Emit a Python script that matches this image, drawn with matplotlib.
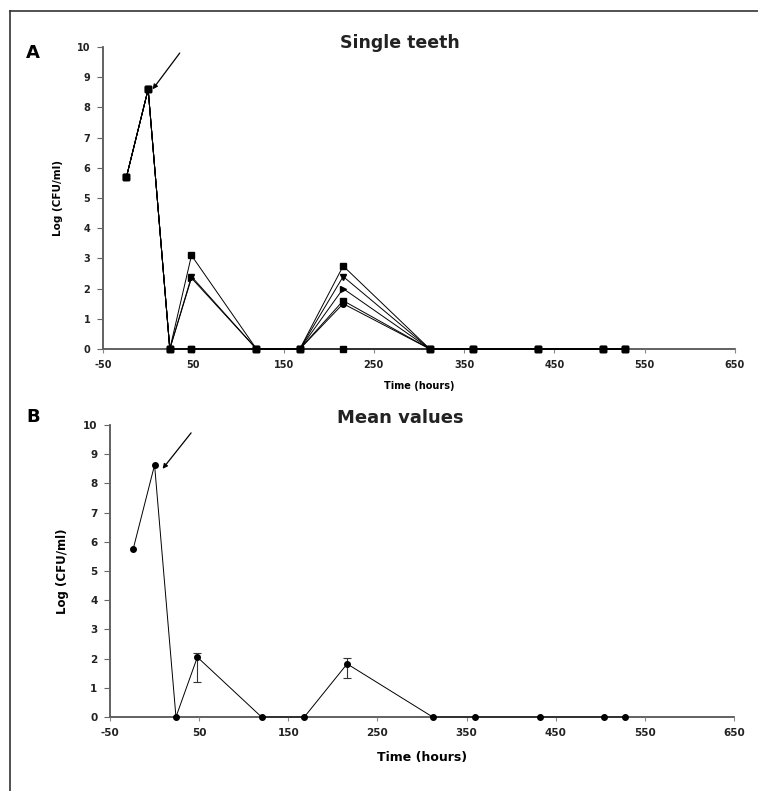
import matplotlib
matplotlib.use("Agg")
import matplotlib.pyplot as plt
import numpy as np
from matplotlib.lines import Line2D

plt.rcParams['font.family'] = ['DejaVu Sans']

# ---- data ----
times = [-24, 0, 24, 48, 120, 168, 216, 312, 360, 432, 504, 528]
tooth1 = [5.7, 8.6, 0, 3.1, 0, 0, 2.75, 0, 0, 0, 0, 0]
tooth2 = [5.7, 8.6, 0, 2.4, 0, 0, 2.4, 0, 0, 0, 0, 0]
tooth3 = [5.7, 8.6, 0, 2.35, 0, 0, 2.0, 0, 0, 0, 0, 0]
tooth4 = [5.7, 8.6, 0, 0, 0, 0, 1.6, 0, 0, 0, 0, 0]
tooth5 = [5.7, 8.6, 0, 0, 0, 0, 1.5, 0, 0, 0, 0, 0]
tooth6 = [5.7, 8.6, 0, 0, 0, 0, 0, 0, 0, 0, 0, 0]
teeth = [tooth1, tooth2, tooth3, tooth4, tooth5, tooth6]
tooth_markers = ['s', 'v', '>', 's', 'o', 's']

mean_vals = [5.75, 8.63, 0, 2.05, 0, 0, 1.82, 0, 0, 0, 0, 0]
err_low = [0, 0, 0, 0.85, 0, 0, 0.5, 0, 0, 0, 0, 0]
err_high = [0, 0, 0, 0.15, 0, 0, 0.2, 0, 0, 0, 0, 0]

xticks = [-50, 50, 150, 250, 350, 450, 550, 650]
yticks = list(range(0, 11))

W, H = 758, 791
fig = plt.figure(figsize=(W / 100, H / 100), dpi=100)

def px_axes(x0, x1, ytop, ybot):
    return fig.add_axes([x0 / W, 1 - ybot / H, (x1 - x0) / W, (ybot - ytop) / H])

axA = px_axes(103, 735, 47, 349)
axB = px_axes(110, 734, 425, 717)

spine_col = '#555555'
for ax, tfs in ((axA, 7), (axB, 7.5)):
    ax.set_xlim(-50, 650)
    ax.set_ylim(0, 10)
    ax.set_xticks(xticks)
    ax.set_yticks(yticks)
    ax.set_xticklabels([str(v) for v in xticks], fontsize=tfs, fontweight='bold', color='#222222')
    ax.set_yticklabels([str(v) for v in yticks], fontsize=tfs, fontweight='bold', color='#222222')
    for s in ('top', 'right'):
        ax.spines[s].set_visible(False)
    for s in ('left', 'bottom'):
        ax.spines[s].set_color(spine_col)
        ax.spines[s].set_linewidth(1.3)
        ax.spines[s].set_zorder(1)
    ax.tick_params(axis='x', direction='out', length=3, width=0.8, color='#888888', pad=5)
    ax.tick_params(axis='y', direction='out', length=4, width=0.8, color='#666666', pad=5)

# Panel A: single teeth
for vals, m in zip(teeth, tooth_markers):
    axA.plot(times, vals, color='black', lw=0.7, marker=m, ms=4,
             markerfacecolor='black', markeredgecolor='black', clip_on=False, zorder=3)
axA.annotate('', xy=(5, 8.6), xytext=(35, 9.8),
             arrowprops=dict(arrowstyle='-|>', lw=0.9, color='black', mutation_scale=7,
                             shrinkA=0, shrinkB=0))
axA.set_ylabel('Log (CFU/ml)', fontsize=7.5, fontweight='bold', labelpad=10)
axA.set_xlabel('Time (hours)', fontsize=7, fontweight='bold', labelpad=8)

# Panel B: mean values
t_arr = np.array(times)
m_arr = np.array(mean_vals)
lo = np.array(err_low)
hi = np.array(err_high)
mask = (lo > 0) | (hi > 0)
axB.plot(times, mean_vals, color='black', lw=0.7, marker='o', ms=4,
         markerfacecolor='black', clip_on=False, zorder=3)
axB.errorbar(t_arr[mask], m_arr[mask], yerr=[lo[mask], hi[mask]], fmt='none',
             ecolor='#333333', elinewidth=0.8, capsize=3, capthick=0.8, zorder=2)
axB.annotate('', xy=(9, 8.5), xytext=(41, 9.73),
             arrowprops=dict(arrowstyle='-|>', lw=0.9, color='black', mutation_scale=7,
                             shrinkA=0, shrinkB=0))
axB.set_ylabel('Log (CFU/ml)', fontsize=8.5, fontweight='bold', labelpad=10)
axB.set_xlabel('Time (hours)', fontsize=9, fontweight='bold', labelpad=9)

# Titles and panel letters
fig.text(400 / W, 1 - 42.5 / H, 'Single teeth', ha='center', va='center',
         fontsize=12.5, fontweight='bold', color='#222222')
fig.text(400 / W, 1 - 418 / H, 'Mean values', ha='center', va='center',
         fontsize=13, fontweight='bold', color='#222222')
fig.text(33 / W, 1 - 53 / H, 'A', ha='center', va='center', fontsize=13, fontweight='bold')
fig.text(33 / W, 1 - 417 / H, 'B', ha='center', va='center', fontsize=13, fontweight='bold')

# frame lines (top and left)
fig.add_artist(Line2D([10 / W, 1], [1 - 11 / H, 1 - 11 / H], color='#333333', lw=1.2))
fig.add_artist(Line2D([10 / W, 10 / W], [0, 1 - 11 / H], color='#333333', lw=1.2))

fig.savefig('out.png', dpi=100)
